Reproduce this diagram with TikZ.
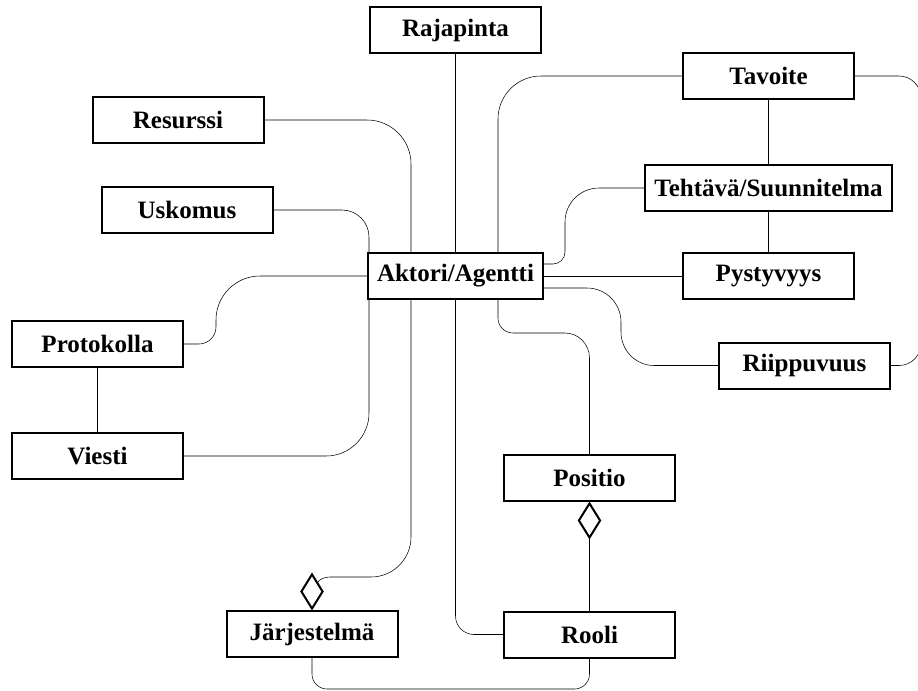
\documentclass[tikz,border=0pt]{standalone}
\usepackage{fontspec}
\setmainfont{Liberation Serif}
\usetikzlibrary{shapes.geometric,calc,backgrounds}
\begin{document}
\begin{tikzpicture}[x=0.75pt,y=-0.75pt,
  box/.style={draw, line width=1.5pt, fill=white, minimum width=128.25pt,
    minimum height=34.5pt, inner xsep=6.75pt, inner ysep=0pt,
    font=\fontsize{18.75pt}{22pt}\selectfont\bfseries},
  dia/.style={draw, diamond, line width=1.5pt, fill=white, inner sep=0pt,
    minimum width=16.5pt, minimum height=26.25pt},
  link/.style={line width=0.8pt},
  % quarter-round corner: start and target are tangent points, #1 is the corner
  bend via/.style={to path={.. controls ($(\tikztostart)!0.5523!(#1)$)
    and ($(\tikztotarget)!0.5523!(#1)$) .. (\tikztotarget)}}]

\useasboundingbox (0,0) rectangle (918,690);

% classes
\node[box] (raj) at (455.5,30)  {Rajapinta};
\node[box] (res) at (178,120)   {Resurssi};
\node[box] (usk) at (187,210)   {Uskomus};
\node[box] (pro) at (97.5,344)  {Protokolla};
\node[box] (vie) at (97.5,456)  {Viesti};
\node[box] (akt) at (455.5,276) {Aktori/Agentti};
\node[box] (tav) at (768.5,76)  {Tavoite};
\node[box] (teh) at (768.5,188) {Tehtävä/Suunnitelma};
\node[box] (pys) at (768.5,276) {Pystyvyys};
\node[box] (rii) at (804.5,365.5) {Riippuvuus};
\node[box] (pos) at (589.5,478) {Positio};
\node[box] (jar) at (312,634)   {Järjestelmä};
\node[box] (roo) at (589.5,634.5) {Rooli};

% aggregation diamonds
\node[dia, anchor=south] (d1) at (jar.north) {};
\node[dia, anchor=north] (d2) at (pos.south) {};

\begin{scope}[on background layer, link]
  % Resurssi -> Järjestelmä
  \draw (res.east) -- (367,120) to[bend via={411,120}] (411,164)
        -- (411,537) to[bend via={411,577}] (371,577)
        -- (330,577) to[bend via={320,577}] (d1.north east);
  % Uskomus -> Viesti
  \draw (usk.east) -- (342,210) to[bend via={369,210}] (369,237)
        -- (369,413) to[bend via={369,456}] (326,456) -- (vie.east);
  % Aktori -> Protokolla
  \draw (akt.west) -- (260,276) to[bend via={216,276}] (216,320)
        -- (216,327) to[bend via={216,344}] (199,344) -- (pro.east);
  % Protokolla -- Viesti
  \draw (pro.south) -- (vie.north);
  % Rajapinta -> Rooli
  \draw (raj.south) -- (455.5,616) to[bend via={455.5,634.5}] (474,634.5) -- (roo.west);
  % Tavoite -> Positio
  \draw (tav.west) -- (541,76) to[bend via={498,76}] (498,119)
        -- (498,318) to[bend via={498,333}] (513,333)
        -- (565,333) to[bend via={589.5,333}] (589.5,358) -- (pos.north);
  % Tavoite -> Riippuvuus (outer loop)
  \draw (tav.east) -- (899,76) to[bend via={921,76}] (921,98)
        -- (921,343.5) to[bend via={921,365.5}] (899,365.5) -- (rii.east);
  % Tavoite -- Tehtävä -- Pystyvyys
  \draw (tav.south) -- (teh.north);
  \draw (teh.south) -- (pys.north);
  % Aktori -> Tehtävä
  \draw (akt.east |- 0,264) -- (553,264) to[bend via={565,264}] (565,252)
        -- (565,222) to[bend via={565,188}] (599,188) -- (teh.west);
  % Aktori -> Pystyvyys
  \draw (akt.east) -- (pys.west);
  % Aktori -> Riippuvuus
  \draw (akt.east |- 0,288) -- (587,288) to[bend via={621,288}] (621,322)
        -- (621,332) to[bend via={621,365.5}] (654,365.5) -- (rii.west);
  % Positio -- Rooli
  \draw (d2.south) -- (roo.north);
  % Järjestelmä -> Rooli
  \draw (jar.south) -- (312,674) to[bend via={312,689}] (327,689)
        -- (574.5,689) to[bend via={589.5,689}] (589.5,674) -- (roo.south);
\end{scope}
\end{tikzpicture}
\end{document}
